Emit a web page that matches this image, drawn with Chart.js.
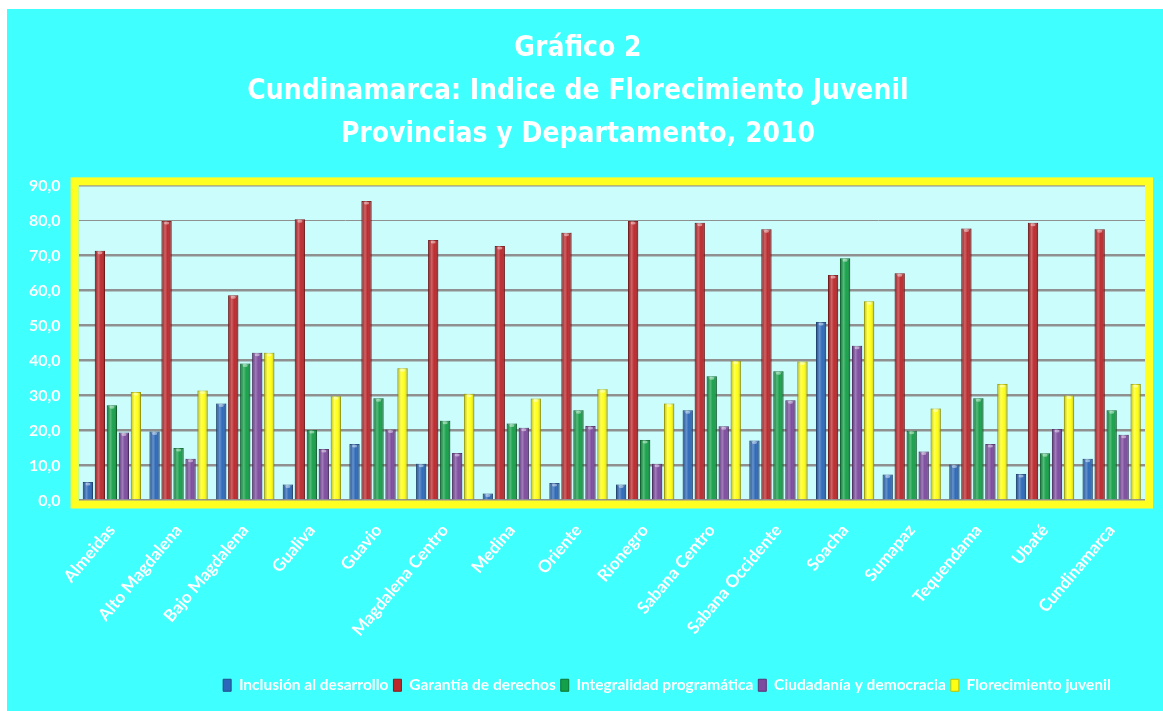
<!DOCTYPE html>
<html>
<head>
<meta charset="utf-8">
<script src="https://cdn.jsdelivr.net/npm/chart.js@4.4.1/dist/chart.umd.min.js"></script>
<style>
  html, body { margin: 0; padding: 0; background: #ffffff; }
  #wrap { position: absolute; left: 7px; top: 9px; width: 1156px; height: 702px; background: #40ffff; }
</style>
</head>
<body>
<div id="wrap"><canvas id="chart"></canvas></div>
<script>
const categories = ['Almeidas', 'Alto Magdalena', 'Bajo Magdalena', 'Gualiva', 'Guavio', 'Magdalena Centro',
  'Medina', 'Oriente', 'Rionegro', 'Sabana Centro', 'Sabana Occidente', 'Soacha', 'Sumapaz',
  'Tequendama', 'Ubaté', 'Cundinamarca'];

const seriesNames = ['Inclusión al desarrollo', 'Garantía de derechos', 'Integralidad programática',
  'Ciudadanía y democracia', 'Florecimiento juvenil'];

const inclusion    = [5.3, 19.7, 27.7, 4.6, 16.1, 10.5, 2.0, 5.0, 4.6, 25.8, 17.1, 51.0, 7.4, 10.3, 7.6, 11.9];
const garantia     = [71.3, 79.8, 58.6, 80.3, 85.5, 74.4, 72.7, 76.5, 79.8, 79.3, 77.5, 64.4, 64.9, 77.7, 79.3, 77.5];
const integralidad = [27.2, 15.0, 39.1, 20.1, 29.2, 22.8, 22.0, 25.8, 17.3, 35.5, 36.9, 69.2, 19.9, 29.2, 13.5, 25.8];
const ciudadania   = [19.4, 11.9, 42.2, 14.7, 20.3, 13.6, 20.8, 21.3, 10.5, 21.2, 28.6, 44.2, 14.0, 16.1, 20.4, 18.8];
const florecimiento = [31.0, 31.4, 42.2, 29.8, 37.8, 30.5, 29.1, 31.8, 27.7, 39.9, 39.7, 56.9, 26.3, 33.3, 30.0, 33.3];

const yTicks = [0, 10, 20, 30, 40, 50, 60, 70, 80, 90];

const colors  = ['#2b68b9', '#bb272b', '#14a048', '#7c4a9e', '#ffff14'];
const borders = ['#1f4f8a', '#8a1a1d', '#0d7433', '#5a3476', '#c0c000'];

// fondo del area del grafico y marco amarillo
const framePlugin = {
  id: 'frame',
  afterLayout(chart) {
    // la leyenda del original esta corrida a la derecha
    chart.legend.left += 89;
    chart.legend.right += 89;
  },
  beforeDraw(chart) {
    const a = chart.chartArea, c = chart.ctx;
    c.save();
    c.fillStyle = '#cbfdfd';
    c.fillRect(a.left, a.top, a.right - a.left, a.bottom - a.top);
    c.restore();
  },
  afterDraw(chart) {
    const a = chart.chartArea, c = chart.ctx;
    c.save();
    c.strokeStyle = '#ffff22';
    c.lineWidth = 8;
    c.strokeRect(a.left - 4, a.top - 4, a.right - a.left + 8, a.bottom - a.top + 8);
    c.restore();
  }
};

// brillo tipo cilindro sobre cada barra
const shinePlugin = {
  id: 'shine',
  afterDatasetsDraw(chart) {
    const c = chart.ctx;
    c.save();
    chart.data.datasets.forEach((ds, i) => {
      const meta = chart.getDatasetMeta(i);
      if (meta.hidden) return;
      meta.data.forEach(bar => {
        const p = bar.getProps(['x', 'y', 'base', 'width'], true);
        const left = p.x - p.width / 2;
        const g = c.createLinearGradient(left, 0, left + p.width, 0);
        g.addColorStop(0, 'rgba(0,0,0,0.22)');
        g.addColorStop(0.35, 'rgba(255,255,255,0.28)');
        g.addColorStop(0.6, 'rgba(255,255,255,0.02)');
        g.addColorStop(1, 'rgba(0,0,0,0.28)');
        c.fillStyle = g;
        c.fillRect(left, p.y, p.width, p.base - p.y);
        c.fillStyle = 'rgba(255,255,255,0.45)';
        c.beginPath();
        c.ellipse(p.x, p.y + 2, p.width / 4, 1.5, 0, 0, Math.PI * 2);
        c.fill();
      });
    });
    c.restore();
  }
};

const seriesData = [inclusion, garantia, integralidad, ciudadania, florecimiento];

new Chart(document.getElementById('chart'), {
  type: 'bar',
  data: {
    labels: categories,
    datasets: seriesNames.map((name, i) => ({
      label: name,
      data: seriesData[i],
      backgroundColor: colors[i],
      borderColor: borders[i],
      borderWidth: 1,
      borderSkipped: 'bottom',
      categoryPercentage: 0.9,
      barPercentage: 0.85
    }))
  },
  options: {
    responsive: true,
    maintainAspectRatio: false,
    animation: false,
    layout: { autoPadding: false, padding: { left: 4, right: 18, top: 0, bottom: 8 } },
    plugins: {
      title: {
        display: true,
        text: ['Gráfico 2', 'Cundinamarca: Indice de Florecimiento Juvenil', 'Provincias y Departamento, 2010'],
        color: '#ffffff',
        font: { family: '"DejaVu Sans Condensed", sans-serif', size: 28, weight: 'bold', lineHeight: 1.54 },
        padding: { top: 18, bottom: 29 }
      },
      legend: {
        position: 'bottom',
        labels: {
          color: '#ffffff',
          font: { family: 'Lato, sans-serif', size: 15.5, weight: 'bold' },
          boxWidth: 8,
          boxHeight: 12,
          padding: 5
        }
      },
      tooltip: { enabled: false }
    },
    scales: {
      x: {
        grid: { display: false },
        border: { display: false },
        afterFit: axis => { axis.height = 172; },
        ticks: {
          color: '#ffffff',
          font: { family: 'Lato, sans-serif', size: 17, weight: 'bold' },
          minRotation: 50,
          maxRotation: 50,
          padding: 12,
          autoSkip: false
        }
      },
      y: {
        min: 0,
        max: 90,
        afterBuildTicks: axis => { axis.ticks = yTicks.map(v => ({ value: v })); },
        border: { display: false },
        grid: {
          color: '#909090',
          lineWidth: ctx => (ctx.tick && ctx.tick.value === 80 ? 1 : 2.5),
          drawTicks: false
        },
        ticks: {
          color: '#ffffff',
          font: { family: 'Lato, sans-serif', size: 16, weight: 'bold' },
          padding: 18,
          callback: v => v.toFixed(1).replace('.', ',')
        }
      }
    }
  },
  plugins: [framePlugin, shinePlugin]
});
</script>
</body>
</html>
